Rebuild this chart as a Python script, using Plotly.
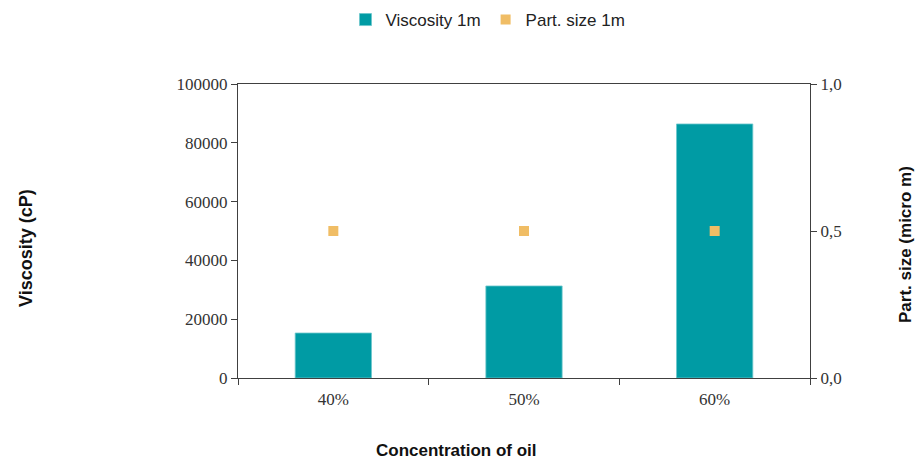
import plotly.graph_objects as go

# Data
concentrations = ["40%", "50%", "60%"]
viscosity_cp = [15300, 31300, 86400]
particle_size_um = [0.5, 0.5, 0.5]

visc_tick_vals = [0, 20000, 40000, 60000, 80000, 100000]
visc_tick_text = ["0", "20000", "40000", "60000", "80000", "100000"]
size_tick_vals = [0.0, 0.5, 1.0]
size_tick_text = ["0,0", "0,5", "1,0"]

TEAL = "#009BA4"
ORANGE = "#F0BD65"
AXIS = "#404040"
TICK_FONT = dict(family="Liberation Serif", size=17, color="#333333")

# Plot area in pixels
L, R, T, B = 238, 810, 84, 378
W, H = R - L, B - T


def px_x(x):
    return (x - L) / W


def px_y(y):
    return (B - y) / H


fig = go.Figure()

fig.add_trace(go.Bar(
    x=concentrations, y=viscosity_cp, name="Viscosity 1m",
    marker=dict(color=TEAL, line=dict(color="#6CC6CB", width=0.8)),
    width=0.4, yaxis="y",
))
fig.add_trace(go.Scatter(
    x=concentrations, y=particle_size_um, name="Part. size 1m",
    mode="markers", marker=dict(symbol="square", size=10, color=ORANGE),
    yaxis="y2",
))

fig.update_layout(
    width=916, height=459,
    margin=dict(l=L, r=916 - R, t=T, b=459 - B),
    paper_bgcolor="white", plot_bgcolor="white",
    showlegend=True,
    legend=dict(
        orientation="h", x=px_x(488), xanchor="center",
        y=1 - 20 / 459, yanchor="middle", yref="container", itemwidth=30,
        font=dict(family="Liberation Sans", size=17, color="#222222"),
    ),
    xaxis=dict(
        type="category", tickson="boundaries", ticks="outside", ticklen=6,
        tickcolor=AXIS, showline=True, linecolor=AXIS, linewidth=1,
        mirror=True, showgrid=False, tickfont=TICK_FONT, ticklabelstandoff=6,
    ),
    yaxis=dict(
        range=[0, 100000], tickvals=visc_tick_vals, ticktext=visc_tick_text,
        ticks="outside", ticklen=6, tickcolor=AXIS, showline=True,
        linecolor=AXIS, linewidth=1, showgrid=False, zeroline=False,
        tickfont=TICK_FONT,
    ),
    yaxis2=dict(
        range=[0, 1.0], tickvals=size_tick_vals, ticktext=size_tick_text,
        overlaying="y", side="right", ticks="outside", ticklen=6,
        tickcolor=AXIS, showline=True, linecolor=AXIS, linewidth=1,
        showgrid=False, zeroline=False, tickfont=TICK_FONT,
    ),
    annotations=[
        dict(text="<b>Viscosity (cP)</b>", xref="paper", yref="paper",
             x=px_x(26), y=px_y(248), xanchor="center", yanchor="middle",
             showarrow=False, textangle=-90,
             font=dict(family="Liberation Sans", size=18, color="#111111")),
        dict(text="<b>Part. size (micro m)</b>", xref="paper", yref="paper",
             x=px_x(905), y=px_y(245), xanchor="center", yanchor="middle",
             showarrow=False, textangle=-90,
             font=dict(family="Liberation Sans", size=17, color="#111111")),
        dict(text="<b>Concentration of oil</b>", xref="paper", yref="paper",
             x=px_x(456), y=px_y(450), xanchor="center", yanchor="middle",
             showarrow=False,
             font=dict(family="Liberation Sans", size=17, color="#111111")),
    ],
)

fig.write_html("out.html")
